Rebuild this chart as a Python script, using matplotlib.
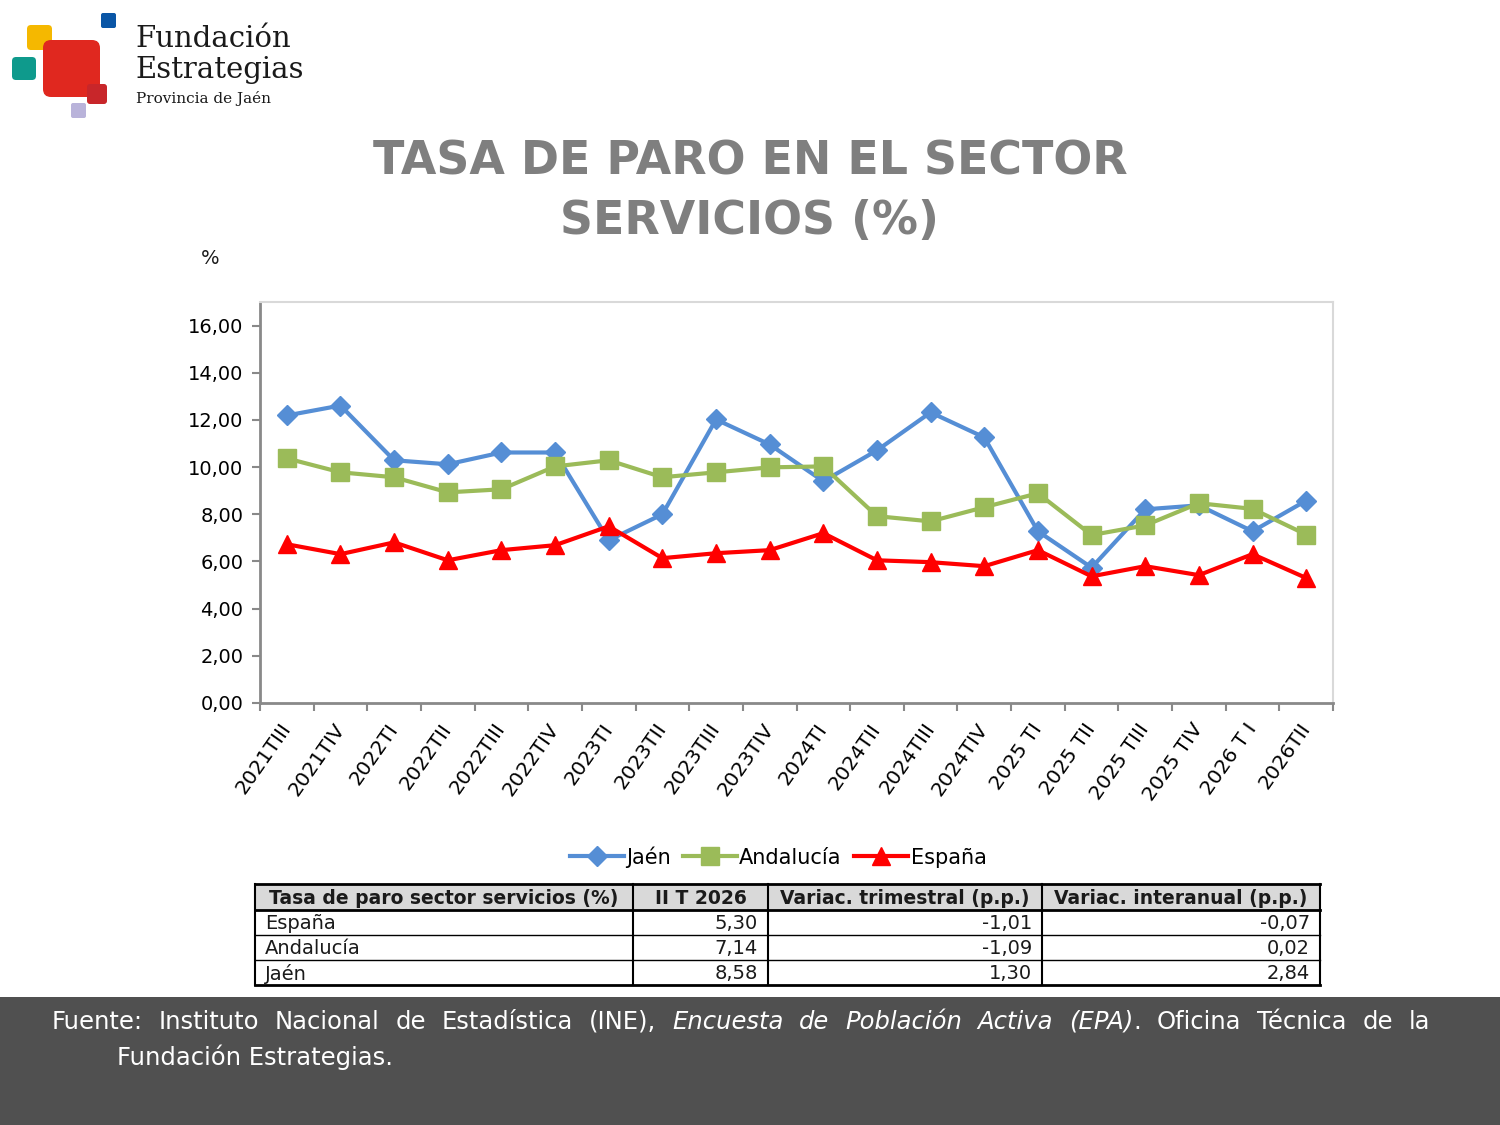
import matplotlib
matplotlib.use("Agg")
import matplotlib.pyplot as plt
from matplotlib.patches import FancyBboxPatch, Rectangle

quarters = ["2021TIII", "2021TIV", "2022TI", "2022TII", "2022TIII", "2022TIV",
            "2023TI", "2023TII", "2023TIII", "2023TIV", "2024TI", "2024TII",
            "2024TIII", "2024TIV", "2025 TI", "2025 TII", "2025 TIII", "2025 TIV",
            "2026 T I", "2026TII"]

jaen = [12.19, 12.61, 10.29, 10.12, 10.62, 10.62, 6.90, 8.00, 12.02, 10.96,
        9.40, 10.71, 12.32, 11.26, 7.28, 5.74, 8.21, 8.38, 7.28, 8.58]
andalucia = [10.37, 9.78, 9.57, 8.93, 9.06, 10.03, 10.29, 9.57, 9.78, 9.99,
             10.03, 7.92, 7.70, 8.30, 8.89, 7.12, 7.53, 8.47, 8.23, 7.14]
espana = [6.73, 6.31, 6.81, 6.05, 6.48, 6.69, 7.49, 6.14, 6.35, 6.48,
          7.20, 6.05, 5.97, 5.80, 6.48, 5.37, 5.80, 5.42, 6.31, 5.30]

table_header = ["Tasa de paro sector servicios (%)", "II T 2026",
                "Variac. trimestral (p.p.)", "Variac. interanual (p.p.)"]
table_rows = [["España", "5,30", "-1,01", "-0,07"],
              ["Andalucía", "7,14", "-1,09", "0,02"],
              ["Jaén", "8,58", "1,30", "2,84"]]

plt.rcParams["font.family"] = ["DejaVu Sans"]

fig = plt.figure(figsize=(15, 11.25), dpi=100)

# overlay axes in pixel coordinates for logo, title, table and footer
ov = fig.add_axes([0, 0, 1, 1])
ov.set_xlim(0, 1500)
ov.set_ylim(1125, 0)
ov.axis("off")

# logo
logo_boxes = [
    (27, 25, 25, 25, "#f5b800", 4),
    (12, 57, 24, 23, "#0e9a8c", 4),
    (101, 13, 15, 15, "#0a56a6", 2),
    (71, 103, 15, 15, "#b9b3da", 2),
    (43, 40, 57, 57, "#e0281f", 8),
    (87, 84, 20, 20, "#c8262a", 3),
]
for x, y, w, h, c, r in logo_boxes:
    ov.add_patch(FancyBboxPatch((x + r, y + r), w - 2 * r, h - 2 * r,
                                boxstyle=f"round,pad={r}", fc=c, ec="none"))
ov.text(135, 39, "Fundación", fontsize=21, family="DejaVu Serif",
        color="#1a1a1a", va="center", ha="left")
ov.text(135, 70, "Estrategias", fontsize=21, family="DejaVu Serif",
        color="#1a1a1a", va="center", ha="left")
ov.text(136, 98, "Provincia de Jaén", fontsize=11, family="DejaVu Serif",
        color="#1a1a1a", va="center", ha="left")

# title
ov.text(750, 162, "TASA DE PARO EN EL SECTOR", fontsize=33, fontweight="bold",
        color="#7f7f7f", ha="center", va="center")
ov.text(750, 222, "SERVICIOS (%)", fontsize=33, fontweight="bold",
        color="#7f7f7f", ha="center", va="center")
ov.text(210, 259, "%", fontsize=14, ha="center", va="center", color="#1a1a1a")

# chart
ax = fig.add_axes([260 / 1500, 1 - 703 / 1125, (1333 - 260) / 1500, (703 - 302) / 1125])
x = list(range(len(quarters)))
ax.plot(x, jaen, color="#558ed5", lw=3, marker="D", ms=10, label="Jaén", zorder=3)
ax.plot(x, andalucia, color="#9bbb59", lw=3, marker="s", ms=13, label="Andalucía", zorder=3)
ax.plot(x, espana, color="#ff0000", lw=3, marker="^", ms=13, label="España", zorder=4)

ax.set_xlim(-0.5, len(quarters) - 0.5)
ax.set_ylim(0, 17)
ax.set_yticks(range(0, 17, 2))
ax.set_yticklabels([f"{v:.2f}".replace(".", ",") for v in range(0, 17, 2)], fontsize=14)
ax.set_xticks(x)
ax.set_xticklabels(quarters, rotation=55, ha="right", va="center",
                   rotation_mode="anchor", fontsize=14.5)
ax.set_xticks([i - 0.5 for i in range(len(quarters) + 1)], minor=True)
ax.tick_params(axis="x", which="major", length=0, pad=16)
ax.tick_params(axis="x", which="minor", length=6, color="#898989", width=1.5)
ax.tick_params(axis="y", length=6, color="#898989", width=1.5, pad=6)
for s in ["left", "bottom"]:
    ax.spines[s].set_color("#898989")
    ax.spines[s].set_linewidth(2)
for s in ["top", "right"]:
    ax.spines[s].set_color("#d9d9d9")
    ax.spines[s].set_linewidth(1.5)

fig.legend(loc="center", bbox_to_anchor=(778 / 1500, 1 - 857 / 1125), ncol=3,
           frameon=False, fontsize=15, handlelength=2.6, handletextpad=0.1,
           columnspacing=0.6)

# table
col_edges = [255, 633, 768, 1042, 1320]
row_edges = [884, 910, 935, 960, 985]
ov.add_patch(Rectangle((col_edges[0], row_edges[0]), col_edges[-1] - col_edges[0],
                       row_edges[1] - row_edges[0], fc="#d9d9d9", ec="none"))
for yy in row_edges:
    ov.plot([col_edges[0], col_edges[-1]], [yy, yy], color="black",
            lw=2 if yy in (row_edges[0], row_edges[1], row_edges[-1]) else 1)
for xx in col_edges:
    ov.plot([xx, xx], [row_edges[0], row_edges[-1]], color="black", lw=1.5)
for j, h in enumerate(table_header):
    ov.text((col_edges[j] + col_edges[j + 1]) / 2, (row_edges[0] + row_edges[1]) / 2 + 1,
            h, fontsize=13.5, fontweight="bold", ha="center", va="center", color="#1a1a1a")
for i, row in enumerate(table_rows):
    yc = (row_edges[i + 1] + row_edges[i + 2]) / 2 + 1
    ov.text(col_edges[0] + 10, yc, row[0], fontsize=14, ha="left", va="center",
            color="#1a1a1a")
    for j in range(1, 4):
        ov.text(col_edges[j + 1] - 10, yc, row[j], fontsize=14, ha="right",
                va="center", color="#1a1a1a")

# footer
ov.add_patch(Rectangle((0, 997), 1500, 128, fc="#505050", ec="none"))
line1 = [("Fuente:", False), ("Instituto", False), ("Nacional", False), ("de", False),
         ("Estadística", False), ("(INE),", False), ("Encuesta", True), ("de", True),
         ("Población", True), ("Activa", True), ("(EPA)", True), (".", False),
         ("Oficina", False), ("Técnica", False), ("de", False), ("la", False)]
fig.canvas.draw()
renderer = fig.canvas.get_renderer()
items = []
for word, it in line1:
    t = ov.text(0, 1022, word, fontsize=17.5, color="white", ha="left", va="center",
                style="italic" if it else "normal")
    items.append(t)
widths = [t.get_window_extent(renderer).width for t in items]
# "." sticks to the word before it
groups = []
for t, w, (word, _) in zip(items, widths, line1):
    if word == "." and groups:
        groups[-1].append((t, w))
    else:
        groups.append([(t, w)])
gap = (1430 - 52 - sum(widths)) / (len(groups) - 1)
xpos = 52
for g in groups:
    for t, w in g:
        t.set_x(xpos)
        xpos += w
    xpos += gap
ov.text(117, 1057, "Fundación Estrategias.", fontsize=17.5, color="white",
        ha="left", va="center")

fig.savefig("out.png", dpi=100)
